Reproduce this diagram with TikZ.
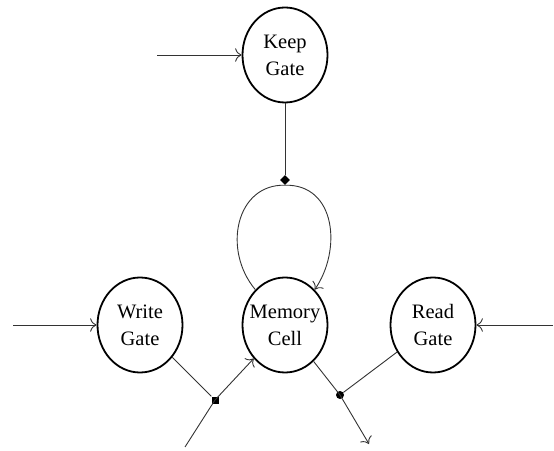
\documentclass[tikz,border=0pt]{standalone}
\usepackage{fontspec}
\setmainfont{Liberation Serif}
\usetikzlibrary{shapes.geometric,arrows.meta}

\begin{document}
\begin{tikzpicture}[x=1pt,y=1pt,>={To[scale=1.8]},
  conn/.style={line width=0.9pt, color=black!80},
  gatedot/.style={fill=black, inner sep=0pt}]
\useasboundingbox (0,0) rectangle (554,450);

\begin{scope}[every node/.style={draw,shape=ellipse,line width=1.8pt,minimum width=85pt,minimum height=95pt,inner sep=-14pt,align=center,font=\fontsize{20.5}{27}\selectfont}]
    \path (285,395) node (keep) {Keep\\Gate};
    \path (keep) +(0,-270) node (memory) {Memory\\Cell};
    \path (memory) +(-145,0) node (write) {Write\\Gate};
    \path (memory) +(148,0) node (read) {Read\\Gate};
\end{scope}

% gate junctions
\path (keep) +(0,-125) node[gatedot,diamond,minimum size=10pt] (kdot) {};
\path (215,50) node[gatedot,rectangle,minimum size=7pt] (wdot) {};
\path (340,55) node[gatedot,circle,minimum size=8pt] (rdot) {};

% free ends
\coordinate (keepin) at (157,395);
\coordinate (writein) at (13,125);
\coordinate (readin) at (553,125);
\coordinate (cellin) at (185,3);
\coordinate (cellout) at (369,6);

\draw[->,conn] (keepin) -- (keep);
\draw[->,conn] (writein) -- (write);
\draw[->,conn] (readin) -- (read);

\draw[conn] (keep) -- (kdot);
\draw[->,conn] (memory.130) .. controls (222,200) and (236,266) .. (kdot.south)
    .. controls (336,266) and (342,200) .. (memory.50);

\draw[conn] (write) -- (wdot);
\draw[->,conn] (cellin) -- (wdot.center) -- (memory);

\draw[conn] (read) -- (rdot);
\draw[->,conn] (memory) -- (rdot.center) -- (cellout);

\end{tikzpicture}
\end{document}
